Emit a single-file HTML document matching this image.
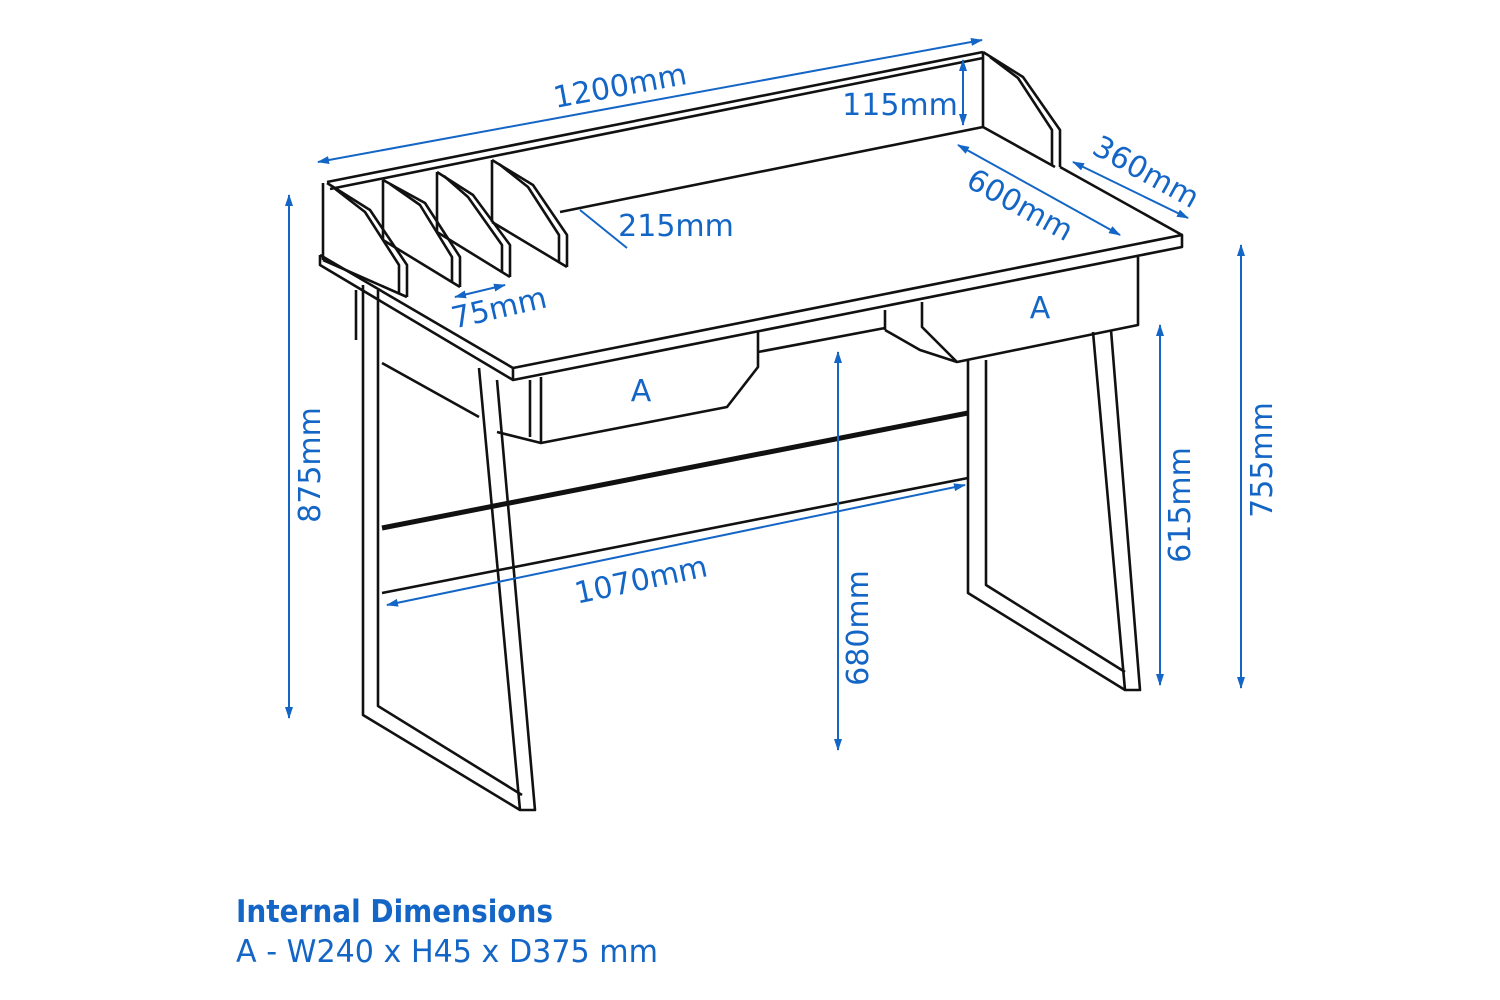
<!DOCTYPE html>
<html><head><meta charset="utf-8"><style>
html,body{margin:0;padding:0;background:#fff;}
svg{display:block;}
text{font-family:"DejaVu Sans","Liberation Sans",sans-serif;fill:#1466c6;}
</style></head><body>
<svg width="1500" height="1000" viewBox="0 0 1500 1000" xmlns="http://www.w3.org/2000/svg">
<defs>
<marker id="ar" markerWidth="12" markerHeight="8" refX="11" refY="4" orient="auto-start-reverse" markerUnits="userSpaceOnUse">
<path d="M0,0 L12,4 L0,8 Z" fill="#1466c6"/></marker>
</defs>
<g fill="none" stroke="#111" stroke-width="2.6" stroke-linejoin="round">
<line x1="327" y1="182" x2="983" y2="52"/>
<line x1="330" y1="189" x2="983" y2="58"/>
<line x1="560" y1="212" x2="983" y2="127"/>
<line x1="983" y1="52" x2="983" y2="127"/>
<polyline points="983,52 1023,77 1060,130 1060,167"/>
<polyline points="990,57 1018,78 1052,130 1052,165"/>
<line x1="983" y1="127" x2="1055" y2="167"/>
<line x1="1060" y1="167" x2="1182" y2="235"/>
<polyline points="320,255 513,368 1182,235 1182,247 513,380 320,265 320,255"/>
<line x1="513" y1="368" x2="513" y2="380"/>
<polyline points="323,183 323,260"/>
<polyline points="327,183 370,210 407,265 407,297"/>
<polyline points="334,188 365,212 399,265 399,293"/>
<line x1="323" y1="260" x2="407" y2="297"/>
<polyline points="383,180 425,203 460,257 460,287"/>
<polyline points="390,184 420,205 452,257 452,283"/>
<line x1="383" y1="180" x2="383" y2="240"/>
<line x1="383" y1="240" x2="460" y2="287"/>
<polyline points="437,172 473,195 510,245 510,277"/>
<polyline points="444,176 468,197 502,245 502,273"/>
<line x1="437" y1="172" x2="437" y2="232"/>
<line x1="437" y1="232" x2="510" y2="277"/>
<polyline points="492,160 533,185 567,235 567,267"/>
<polyline points="499,164 528,187 559,235 559,263"/>
<line x1="492" y1="160" x2="492" y2="222"/>
<line x1="492" y1="222" x2="567" y2="267"/>
<polyline points="363,285 363,715 520,810 535,810 497,380"/>
<polyline points="378,290 378,706 522,795"/>
<line x1="479" y1="368" x2="520" y2="810"/>
<line x1="356" y1="290" x2="356" y2="340"/>
<line x1="382" y1="363" x2="479" y2="417"/>
<polyline points="541,377 541,443 727,407 758,367 758,332"/>
<line x1="530" y1="380" x2="530" y2="437"/>
<line x1="497" y1="432" x2="541" y2="443"/>
<line x1="758" y1="352" x2="885" y2="328"/>
<polyline points="922,302 922,327 957,362 1138,325 1138,257"/>
<polyline points="885,330 920,350 957,362"/>
<line x1="885" y1="310" x2="885" y2="330"/>
<polyline points="968,360 968,593 1125,690 1140,690 1111,330"/>
<polyline points="986,360 986,585 1125,672"/>
<line x1="1093" y1="332" x2="1125" y2="690"/>
<line x1="382" y1="528" x2="968" y2="413" stroke-width="5"/>
<line x1="382" y1="593" x2="968" y2="478"/>
</g>
<g stroke="#1466c6" stroke-width="2" fill="none">
<line x1="318" y1="162" x2="982" y2="40" marker-start="url(#ar)" marker-end="url(#ar)"/>
<line x1="963" y1="60" x2="963" y2="125" marker-start="url(#ar)" marker-end="url(#ar)"/>
<line x1="580" y1="210" x2="627" y2="248"/>
<line x1="958" y1="145" x2="1120" y2="235" marker-start="url(#ar)" marker-end="url(#ar)"/>
<line x1="1073" y1="162" x2="1188" y2="218" marker-start="url(#ar)" marker-end="url(#ar)"/>
<line x1="455" y1="297" x2="505" y2="285" marker-start="url(#ar)" marker-end="url(#ar)"/>
<line x1="289" y1="195" x2="289" y2="718" marker-start="url(#ar)" marker-end="url(#ar)"/>
<line x1="838" y1="352" x2="838" y2="750" marker-start="url(#ar)" marker-end="url(#ar)"/>
<line x1="1160" y1="325" x2="1160" y2="685" marker-start="url(#ar)" marker-end="url(#ar)"/>
<line x1="1241" y1="245" x2="1241" y2="688" marker-start="url(#ar)" marker-end="url(#ar)"/>
<line x1="387" y1="605" x2="965" y2="485" marker-start="url(#ar)" marker-end="url(#ar)"/>
</g>
<g font-size="30">
<text x="620" y="96" text-anchor="middle" transform="rotate(-10.4 620 86)">1200mm</text>
<text x="900" y="115" text-anchor="middle">115mm</text>
<text x="676" y="236" text-anchor="middle">215mm</text>
<text x="1020" y="215" text-anchor="middle" transform="rotate(29 1020 205)">600mm</text>
<text x="1146" y="182" text-anchor="middle" transform="rotate(29 1146 172)">360mm</text>
<text x="499" y="318" text-anchor="middle" transform="rotate(-13 499 308)">75mm</text>
<text x="641" y="590" text-anchor="middle" transform="rotate(-12 641 580)">1070mm</text>
<text x="310" y="475" text-anchor="middle" transform="rotate(-90 310 465)">875mm</text>
<text x="858" y="638" text-anchor="middle" transform="rotate(-90 858 628)">680mm</text>
<text x="1180" y="515" text-anchor="middle" transform="rotate(-90 1180 505)">615mm</text>
<text x="1262" y="470" text-anchor="middle" transform="rotate(-90 1262 460)">755mm</text>
<text x="641" y="401" text-anchor="middle">A</text>
<text x="1040" y="318" text-anchor="middle">A</text>
</g>
<text x="236" y="922" font-size="31" font-weight="bold" textLength="317" lengthAdjust="spacingAndGlyphs">Internal Dimensions</text>
<text x="236" y="962" font-size="31" textLength="422" lengthAdjust="spacingAndGlyphs">A - W240 x H45 x D375 mm</text>
</svg>
</body></html>
